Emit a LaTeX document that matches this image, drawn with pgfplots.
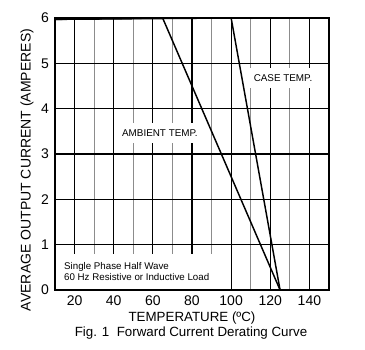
\documentclass[border=0pt]{standalone}
\usepackage{fontspec}
\setmainfont{Liberation Sans}
\usepackage{pgfplots}
\pgfplotsset{compat=1.18}
\begin{document}
\begin{tikzpicture}[x=0.75pt,y=0.75pt]
\useasboundingbox (0,0) rectangle (365,350);
\begin{axis}[
  at={(41.25pt,45pt)}, anchor=south west,
  scale only axis, width=205.5pt, height=204pt,
  xmin=10, xmax=150, ymin=0, ymax=6,
  xtick={20,40,...,140}, minor xtick={10,30,...,150},
  ytick={0,1,...,6},
  grid=both,
  major grid style={black, line width=0.9pt},
  minor grid style={black!45, line width=0.9pt},
  axis line style={black, line width=0.9pt},
  tick style={draw=none},
  ticklabel style={font=\fontsize{10.5}{12}\selectfont},
  /pgf/number format/assume math mode=true,
  xticklabel style={yshift=-0.5pt},
  yticklabel style={xshift=-1pt},
]
\addplot[black, line width=1.1pt] coordinates {(10,5.97) (65,6) (125,0)};
\addplot[black, line width=1.1pt] coordinates {(10,5.97) (100,6) (125,0)};
\node[fill=white, inner xsep=5pt, inner ysep=5pt, font=\fontsize{7.4}{9}\selectfont] at (axis cs:63.6,3.47) {AMBIENT TEMP.};
\node[fill=white, inner xsep=5pt, inner ysep=5pt, font=\fontsize{7.4}{9}\selectfont] at (axis cs:126.5,4.68) {CASE TEMP.};
\node[fill=white, anchor=south west, align=left, inner xsep=6pt, inner ysep=6pt, xshift=0.7pt, yshift=0.7pt, font=\fontsize{7.3}{8.4}\selectfont] at (axis cs:10,0) {Single Phase Half Wave\\60 Hz Resistive or Inductive Load};
\end{axis}
\node[font=\fontsize{10}{12}\selectfont] at (192,32) {TEMPERATURE (ºC)};
\node[font=\fontsize{10}{12}\selectfont] at (191,17) {Fig. 1\ \ Forward Current Derating Curve};
\node[rotate=90, font=\fontsize{10.5}{12}\selectfont] at (27,180) {AVERAGE OUTPUT CURRENT (AMPERES)};
\end{tikzpicture}
\end{document}
